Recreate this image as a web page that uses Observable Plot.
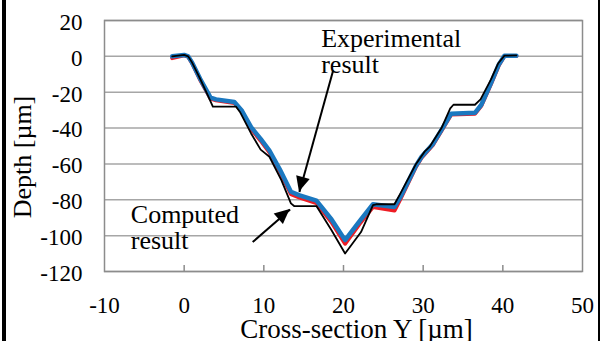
<!DOCTYPE html>
<html>
<head>
<meta charset="utf-8">
<script src="https://cdn.jsdelivr.net/npm/d3@7"></script>
<script src="https://cdn.jsdelivr.net/npm/@observablehq/plot@0.6"></script>
<style>
  html, body { margin: 0; padding: 0; background: #fff; }
  #wrap { position: relative; width: 603px; height: 341px; overflow: hidden; }
  #wrap::before { content: ""; position: absolute; left: 2px; top: 0; bottom: 0; width: 4px; background: #000; }
  #wrap::after { content: ""; position: absolute; right: 3px; top: 0; bottom: 0; width: 2px; background: #000; }
</style>
</head>
<body>
<div id="wrap"></div>
<script>
// ---- data ----
const xTicks = [-10, 0, 10, 20, 30, 40, 50];
const yTicks = [20, 0, -20, -40, -60, -80, -100, -120];
const xInnerTicks = [0, 10, 20, 30, 40];

const computedX = [-1.5, 0, 0.5, 1, 2, 3, 3.6, 6.5, 7, 8.4, 9.6, 10.7, 12.2, 13.4, 13.8, 16.6, 18.5, 20.2, 22.2, 23.7, 24.1, 26.4, 27.2, 29.1, 30.2, 30.8, 32.3, 33.4, 33.8, 36.5, 37.2, 38.5, 39.4, 40.2, 41.7];
const computedY = [0, 0.8, 0, -3.5, -12.5, -22, -28, -28, -31, -43, -52, -56, -69, -82, -83.5, -83.5, -97, -110, -98, -83, -82.5, -82.5, -76, -60, -53, -50.5, -40, -29, -27, -27, -24, -13, -4, 0.4, 0.5];

const expBlueX = [-1.5, 0, 0.5, 1, 2, 3, 3.3, 4, 6.3, 7.2, 8.4, 9.6, 10.7, 12, 13.4, 14.5, 16.6, 18.5, 20.2, 22, 23.7, 26.4, 27.2, 29.1, 29.8, 30.5, 31.2, 32.3, 33.5, 36.5, 37.3, 38.5, 39.5, 40.2, 41.7];
const expBlueY = [0, 0.8, 0, -3.5, -12.5, -20.5, -23, -24, -25.5, -30, -39.5, -46, -52.5, -63, -75.5, -77.5, -80.5, -91, -102.5, -92, -82.5, -84, -78, -61, -56, -52.5, -49, -41, -32, -31.5, -27, -15, -4.5, 0.3, 0.3];

const expRedX = [-1.5, 0, 0.5, 1, 2, 3, 3.3, 4, 6.3, 7.2, 8.4, 9.6, 10.7, 12, 13.4, 14.5, 16.6, 18.5, 20.2, 22, 23.7, 26.4, 27.2, 29.1, 29.8, 30.5, 31.2, 32.3, 33.5, 36.5, 37.3, 38.5, 39.5, 40.2, 41.7];
const expRedY = [-1, 0.6, -0.2, -3.8, -13, -21, -23.5, -24.5, -26, -30.5, -40.5, -47, -53.5, -64, -76.8, -78.8, -81.8, -92.5, -104.5, -93.5, -84, -86, -79, -61.5, -56.5, -53, -49.5, -41.5, -32.5, -32, -27.5, -15.5, -5, 0.2, 0.2];

const labelLines = [
  { text: "Experimental\nresult", x: 17.2, y: -9.4 },
  { text: "Computed\nresult", x: -6.7, y: -107.3 }
];
const arrows = [
  { x1: 18.7, y1: -7.9, x2: 14.47, y2: -75.7 },
  { x1: 8.6, y1: -103.6, x2: 13.3, y2: -85.4 }
];

const zip = (xs, ys) => xs.map((x, i) => ({ x, y: ys[i] }));
const computed = zip(computedX, computedY);
const expBlue = zip(expBlueX, expBlueY);
const expRed = zip(expRedX, expRedY);

const serif = "'Liberation Serif', 'Times New Roman', serif";
const fmt = d => String(d);

function arrowHeads(index, scales) {
  const ns = "http://www.w3.org/2000/svg";
  const g = document.createElementNS(ns, "g");
  const L = 15, W = 7;
  for (const a of arrows) {
    const fx = scales.x(a.x1), fy = scales.y(a.y1);
    const tx = scales.x(a.x2), ty = scales.y(a.y2);
    const dx = tx - fx, dy = ty - fy, d = Math.hypot(dx, dy);
    const ux = dx / d, uy = dy / d;
    const bx = tx - ux * L, by = ty - uy * L;
    const p = document.createElementNS(ns, "polygon");
    p.setAttribute("points", `${tx},${ty} ${bx - uy * W},${by + ux * W} ${bx + uy * W},${by - ux * W}`);
    p.setAttribute("fill", "#000");
    g.appendChild(p);
  }
  return g;
}

const chart = Plot.plot({
  width: 603,
  height: 341,
  marginLeft: 104,
  marginRight: 21,
  marginTop: 20,
  marginBottom: 70,
  style: { fontFamily: serif, background: "transparent", color: "#000" },
  x: { domain: [-10, 50] },
  y: { domain: [-120, 20] },
  marks: [
    Plot.gridY(yTicks, { stroke: "#a6a6a6", strokeOpacity: 1, strokeWidth: 1.5 }),
    Plot.frame({ stroke: "#8c8c8c", strokeWidth: 1.5 }),
    Plot.tickX(xInnerTicks, { x: d => d, stroke: "#8c8c8c", strokeWidth: 1.5, insetTop: 245 }),
    Plot.axisY(yTicks, { tickSize: 0, tickPadding: 22, fontSize: 23, fontFamily: serif, fontVariant: "normal", dy: 2, label: null, tickFormat: fmt }),
    Plot.axisX(xTicks, { tickSize: 0, tickPadding: 25, fontSize: 23, fontFamily: serif, fontVariant: "normal", label: null, tickFormat: fmt }),
    Plot.line(expRed, { x: "x", y: "y", stroke: "#ee1c24", strokeWidth: 4 }),
    Plot.line(expBlue, { x: "x", y: "y", stroke: "#1b78c0", strokeWidth: 4.5 }),
    Plot.line(computed, { x: "x", y: "y", stroke: "#000", strokeWidth: 1.8 }),
    Plot.link(arrows, { x1: "x1", y1: "y1", x2: "x2", y2: "y2", stroke: "#000", strokeWidth: 2 }),
    arrowHeads,
    Plot.text(labelLines, { x: "x", y: "y", text: "text", textAnchor: "start", lineAnchor: "bottom", lineHeight: 1.0, fontSize: 26, fill: "#000" }),
    Plot.text(["Depth [µm]"], { frameAnchor: "left", textAnchor: "middle", rotate: -90, dx: -82, dy: 11, fontSize: 26, fill: "#000" }),
    Plot.text(["Cross-section Y [µm]"], { frameAnchor: "bottom", textAnchor: "middle", dx: 13, dy: 66, lineAnchor: "bottom", fontSize: 27, fill: "#000" })
  ]
});
document.getElementById("wrap").appendChild(chart);
</script>
</body>
</html>
